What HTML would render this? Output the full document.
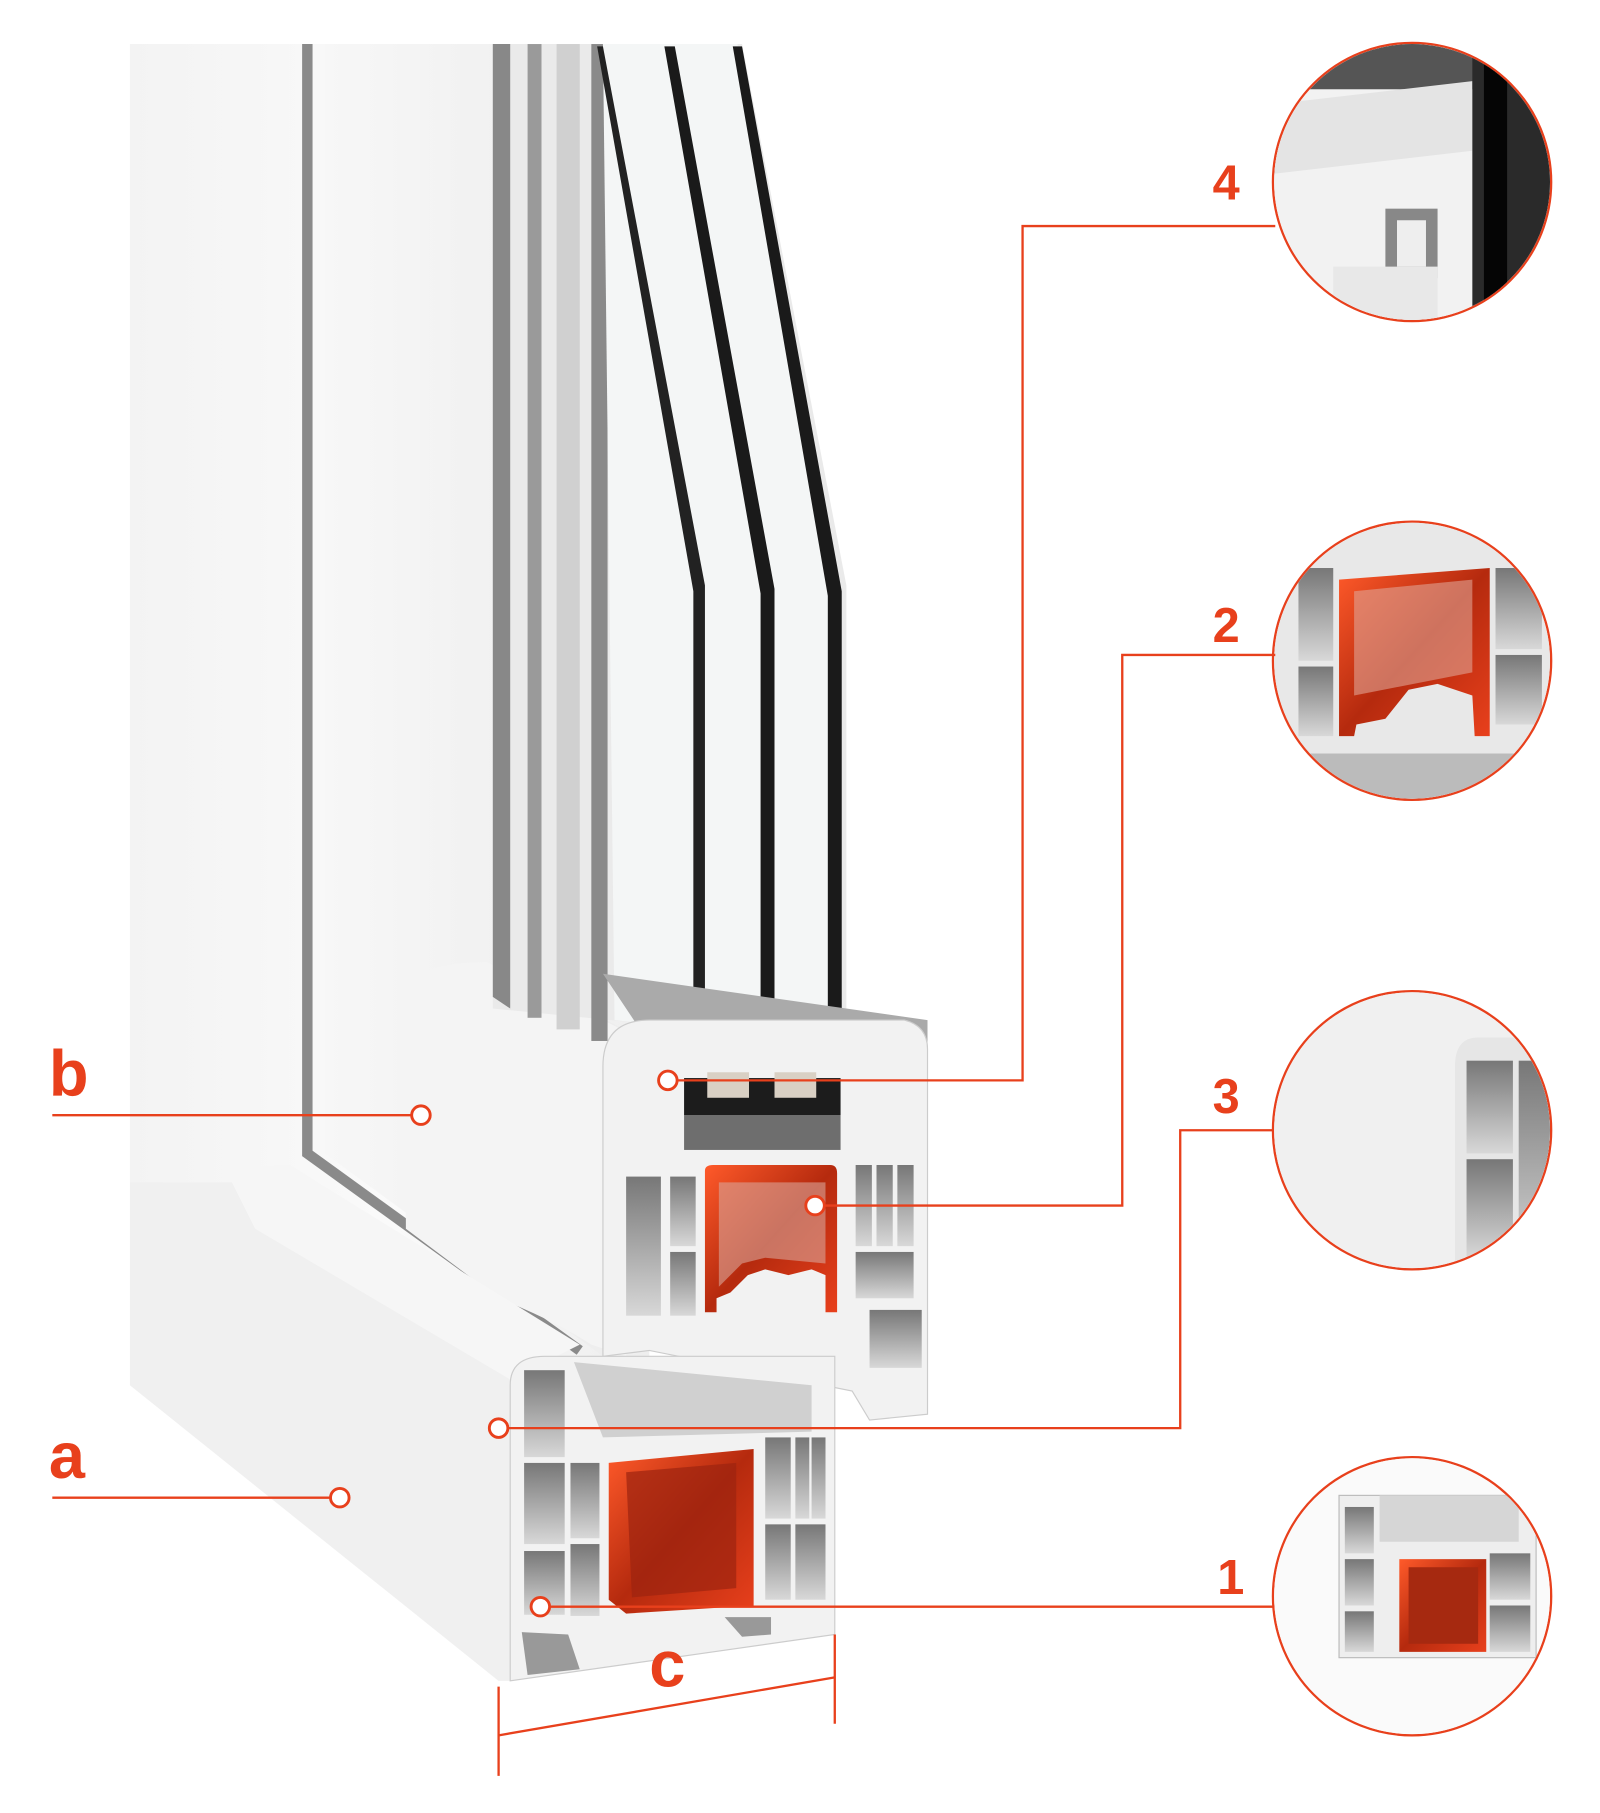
<!DOCTYPE html>
<html><head><meta charset="utf-8"><style>
html,body{margin:0;padding:0;background:#fff;}
svg{display:block}
text{font-family:"Liberation Sans",sans-serif;font-weight:bold;fill:#e8401c}
</style></head><body>
<svg width="1600" height="1813" viewBox="0 0 1380 1564" xmlns="http://www.w3.org/2000/svg">
<defs>
<linearGradient id="face" x1="0" x2="1"><stop offset="0" stop-color="#f3f3f3"/><stop offset="0.5" stop-color="#fafafa"/><stop offset="1" stop-color="#eeeeee"/></linearGradient>
<linearGradient id="sash" x1="0" x2="1"><stop offset="0" stop-color="#f7f7f7"/><stop offset="1" stop-color="#ececec"/></linearGradient>
<linearGradient id="org" x1="0" y1="0" x2="1" y2="1"><stop offset="0" stop-color="#ff5a2a"/><stop offset="0.5" stop-color="#b52a0e"/><stop offset="1" stop-color="#e8401c"/></linearGradient>
<linearGradient id="cell" x1="0" y1="0" x2="0" y2="1"><stop offset="0" stop-color="#777"/><stop offset="1" stop-color="#d8d8d8"/></linearGradient>
<clipPath id="c4"><circle cx="1218" cy="157" r="119"/></clipPath>
<clipPath id="c2"><circle cx="1218" cy="570" r="119"/></clipPath>
<clipPath id="c3"><circle cx="1218" cy="975" r="119"/></clipPath>
<clipPath id="c1"><circle cx="1218" cy="1377" r="119"/></clipPath>
</defs>
<path d="M112 38 L560 38 L560 1170 L430 1450 L112 1195 Z" fill="url(#face)"/>
<path d="M112 1195 L430 1450 L440 1450 L440 1190 L200 1020 L112 1020 Z" fill="#f0f0f0"/>
<path d="M265 38 L265 995 L500 1165" stroke="#8a8a8a" stroke-width="9" fill="none"/>
<path d="M280 38 L430 38 L430 830 L560 900 L520 1170 L280 995 Z" fill="url(#sash)"/>
<path d="M350 855 Q360 830 420 830 L560 900 L540 1170 L510 1160 Q480 1140 430 1120 L350 1060 Z" fill="#f4f4f4"/>
<path d="M200 1020 Q210 1005 250 1005 L500 1160 L440 1190 L220 1060 Z" fill="#f6f6f6"/>
<path d="M425 38 L640 38 L730 505 L730 900 L425 870 Z" fill="#eaeaea"/>
<path d="M425 38 L440 38 L440 870 L425 860Z" fill="#888"/>
<rect x="455" y="38" width="12" height="840" fill="#9a9a9a"/>
<rect x="480" y="38" width="20" height="850" fill="#d0d0d0"/>
<rect x="510" y="38" width="14" height="860" fill="#8a8a8a"/>
<path d="M520 38 L636 38 L724 505 L724 900 L530 880 Z" fill="#f4f6f6"/>
<path d="M515 40 L520 40 L608 505 L608 925 L598 925 L598 510 Z" fill="#222"/>
<path d="M573 40 L582 40 L668 508 L668 925 L656 925 L656 512 Z" fill="#1a1a1a"/>
<path d="M632 40 L640 40 L726 510 L726 925 L714 925 L714 514 Z" fill="#1a1a1a"/>
<path d="M520 840 L800 880 L800 900 L560 900 Z" fill="#aaa"/>
<path d="M520 920 Q520 880 560 880 L780 880 Q800 885 800 905 L800 1220 L750 1225 L735 1200 L560 1165 L520 1170 Z" fill="#f2f2f2" stroke="#ccc"/>
<rect x="590" y="962" width="135" height="30" fill="#6e6e6e"/>
<rect x="590" y="930" width="135" height="32" fill="#1c1c1c"/>
<rect x="610" y="925" width="36" height="22" fill="#d9d0c4"/>
<rect x="668" y="925" width="36" height="22" fill="#d9d0c4"/>
<rect x="540" y="1015" width="30" height="120" fill="url(#cell)"/>
<rect x="578" y="1015" width="22" height="60" fill="url(#cell)"/>
<rect x="578" y="1080" width="22" height="55" fill="url(#cell)"/>
<rect x="738" y="1005" width="14" height="70" fill="url(#cell)"/>
<rect x="756" y="1005" width="14" height="70" fill="url(#cell)"/>
<rect x="774" y="1005" width="14" height="70" fill="url(#cell)"/>
<rect x="738" y="1080" width="50" height="40" fill="url(#cell)"/>
<rect x="750" y="1130" width="45" height="50" fill="url(#cell)"/>
<path d="M608 1010 Q608 1005 615 1005 L716 1005 Q722 1005 722 1012 L722 1132 L712 1132 L712 1100 L700 1095 L680 1100 L660 1095 L645 1100 L630 1115 L618 1120 L618 1132 L608 1132 Z" fill="url(#org)"/>
<path d="M620 1020 L712 1020 L712 1090 L660 1085 L640 1090 L620 1110 Z" fill="#d9a59a" opacity="0.6"/>
<path d="M440 1195 Q440 1170 470 1170 L720 1170 L720 1410 L440 1450 Z" fill="#f2f2f2" stroke="#ccc"/>
<path d="M495 1175 L700 1195 L700 1235 L520 1240 Z" fill="#d0d0d0"/>
<rect x="452" y="1182" width="35" height="75" fill="url(#cell)"/>
<rect x="452" y="1262" width="35" height="70" fill="url(#cell)"/>
<rect x="452" y="1338" width="35" height="55" fill="url(#cell)"/>
<rect x="492" y="1262" width="25" height="65" fill="url(#cell)"/>
<rect x="492" y="1332" width="25" height="62" fill="url(#cell)"/>
<rect x="660" y="1240" width="22" height="70" fill="url(#cell)"/>
<rect x="686" y="1240" width="12" height="70" fill="url(#cell)"/>
<rect x="700" y="1240" width="12" height="70" fill="url(#cell)"/>
<rect x="660" y="1315" width="22" height="65" fill="url(#cell)"/>
<rect x="686" y="1315" width="26" height="65" fill="url(#cell)"/>
<path d="M450 1408 L490 1410 L500 1440 L455 1445Z" fill="#999"/>
<path d="M625 1395 L665 1395 L665 1410 L640 1412 Z" fill="#999"/>
<path d="M525 1262 L650 1250 L650 1385 L540 1392 L525 1380 Z" fill="url(#org)"/>
<path d="M540 1270 L635 1262 L635 1370 L545 1378 Z" fill="#9c2410" opacity="0.7"/>
<g stroke="#e8401c" stroke-width="2" fill="#fff">
<circle cx="1218" cy="157" r="120"/><circle cx="1218" cy="570" r="120"/><circle cx="1218" cy="975" r="120"/><circle cx="1218" cy="1377" r="120"/>
</g>
<g clip-path="url(#c4)">
<rect x="1098" y="37" width="240" height="240" fill="#f2f2f2"/>
<rect x="1098" y="37" width="240" height="40" fill="#555"/>
<path d="M1098 90 L1270 70 L1270 130 L1098 150Z" fill="#e4e4e4"/>
<rect x="1270" y="37" width="70" height="240" fill="#2a2a2a"/>
<rect x="1280" y="37" width="20" height="240" fill="#050505"/>
<rect x="1195" y="180" width="45" height="60" fill="#888"/>
<rect x="1205" y="190" width="25" height="40" fill="#eee"/>
<path d="M1150 230 L1240 230 L1240 277 L1150 277 Z" fill="#e8e8e8"/>
</g>
<g clip-path="url(#c2)">
<rect x="1098" y="450" width="240" height="240" fill="#e8e8e8"/>
<rect x="1120" y="490" width="30" height="80" fill="url(#cell)"/>
<rect x="1120" y="575" width="30" height="60" fill="url(#cell)"/>
<rect x="1290" y="490" width="40" height="70" fill="url(#cell)"/>
<rect x="1290" y="565" width="40" height="60" fill="url(#cell)"/>
<path d="M1155 500 L1285 490 L1285 635 L1272 635 L1270 600 L1240 590 L1215 595 L1195 620 L1170 625 L1168 635 L1155 635 Z" fill="url(#org)"/>
<path d="M1168 510 L1270 500 L1270 580 L1168 600Z" fill="#e0a395" opacity="0.6"/>
<path d="M1098 650 L1338 650 L1338 690 L1098 690Z" fill="#bbb"/>
</g>
<g clip-path="url(#c3)">
<rect x="1098" y="855" width="240" height="240" fill="#f0f0f0"/>
<path d="M1255 1095 L1255 920 Q1255 895 1275 895 L1338 895 L1338 1095 Z" fill="#e6e6e6"/>
<rect x="1265" y="915" width="40" height="80" fill="url(#cell)"/>
<rect x="1265" y="1000" width="40" height="85" fill="url(#cell)"/>
<rect x="1310" y="915" width="30" height="180" fill="url(#cell)"/>
</g>
<g clip-path="url(#c1)">
<rect x="1098" y="1257" width="240" height="240" fill="#fafafa"/>
<rect x="1155" y="1290" width="170" height="140" fill="#eee" stroke="#bbb"/>
<rect x="1160" y="1300" width="25" height="40" fill="url(#cell)"/>
<rect x="1160" y="1345" width="25" height="40" fill="url(#cell)"/>
<rect x="1160" y="1390" width="25" height="35" fill="url(#cell)"/>
<rect x="1285" y="1340" width="35" height="40" fill="url(#cell)"/>
<rect x="1285" y="1385" width="35" height="40" fill="url(#cell)"/>
<rect x="1190" y="1290" width="120" height="40" fill="#d6d6d6"/>
<rect x="1207" y="1345" width="75" height="80" fill="url(#org)"/>
<rect x="1215" y="1352" width="60" height="66" fill="#a62910"/>
</g>
<g stroke="#e8401c" stroke-width="2" fill="none">
<path d="M45 962 L355 962"/><path d="M45 1292 L285 1292"/>
<path d="M584 932 L882 932 L882 195 L1100 195"/>
<path d="M711 1040 L968 1040 L968 565 L1100 565"/>
<path d="M438 1232 L1018 1232 L1018 975 L1098 975"/>
<path d="M474 1386 L1098 1386"/>
<path d="M430 1455 L430 1532"/><path d="M720 1410 L720 1487"/>
<path d="M430 1497 L720 1447"/>
</g>
<g stroke="#e8401c" stroke-width="2.5" fill="#fff">
<circle cx="363" cy="962" r="8"/><circle cx="293" cy="1292" r="8"/>
<circle cx="576" cy="932" r="8"/><circle cx="703" cy="1040" r="8"/>
<circle cx="430" cy="1232" r="8"/><circle cx="466" cy="1386" r="8"/>
</g>
<text x="42" y="945" font-size="56">b</text>
<text x="42" y="1275" font-size="56">a</text>
<text x="560" y="1455" font-size="56">c</text>
<text x="1046" y="172" font-size="42">4</text>
<text x="1046" y="554" font-size="42">2</text>
<text x="1046" y="960" font-size="42">3</text>
<text x="1050" y="1375" font-size="42">1</text>
</svg>
</body></html>
